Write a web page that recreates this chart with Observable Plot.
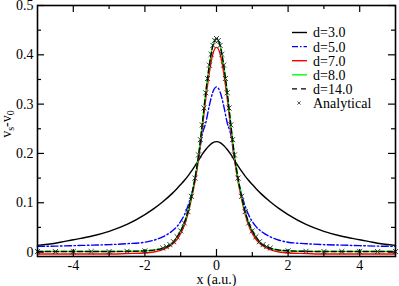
<!DOCTYPE html>
<html>
<head>
<meta charset="utf-8">
<script src="https://cdn.jsdelivr.net/npm/d3@7"></script>
<script src="https://cdn.jsdelivr.net/npm/@observablehq/plot@0.6"></script>
<style>
  html, body { margin: 0; padding: 0; background: #fff; }
  #chart { position: relative; width: 399px; height: 286px; }
  #chart svg, #chart svg text { font-family: 'Liberation Serif', 'Times New Roman', serif !important; }
</style>
</head>
<body>
<div id="chart"></div>
<script>
// ---- data ----
const xs = [-5,-4.5,-4,-3.5,-3,-2.5,-2,-1.75,-1.5,-1.25,-1.1,-1,-0.9,-0.8,-0.7,-0.6,-0.5,-0.4,-0.3,-0.2,-0.1,0,
            0.1,0.2,0.3,0.4,0.5,0.6,0.7,0.8,0.9,1,1.1,1.25,1.5,1.75,2,2.5,3,3.5,4,4.5,5];

const d3_0 = [0.0135,0.018,0.025,0.032,0.042,0.056,0.076,0.088,0.102,0.118,0.129,0.137,0.145,0.154,0.164,0.175,0.186,0.198,0.208,0.216,0.222,0.224,
              0.222,0.216,0.208,0.198,0.186,0.175,0.164,0.154,0.145,0.137,0.129,0.118,0.102,0.088,0.076,0.056,0.042,0.032,0.025,0.018,0.0135];

const d5_0 = [0.0115,0.012,0.013,0.014,0.015,0.017,0.020,0.024,0.031,0.042,0.052,0.062,0.075,0.093,0.117,0.148,0.190,0.238,0.262,0.297,0.325,0.335,
              0.325,0.297,0.262,0.238,0.190,0.148,0.117,0.093,0.075,0.062,0.052,0.042,0.031,0.024,0.020,0.017,0.015,0.014,0.013,0.012,0.0115];

const d7_0 = [-0.004,-0.004,-0.004,-0.004,-0.004,-0.003,-0.002,0.000,0.005,0.015,0.026,0.038,0.054,0.077,0.108,0.144,0.190,0.249,0.311,0.364,0.402,0.415,
              0.402,0.364,0.311,0.249,0.190,0.144,0.108,0.077,0.054,0.038,0.026,0.015,0.005,0.000,-0.002,-0.003,-0.004,-0.004,-0.004,-0.004,-0.004];

const d8_0 = [0.001,0.001,0.001,0.001,0.001,0.0015,0.0025,0.004,0.008,0.017,0.031,0.043,0.059,0.082,0.113,0.150,0.197,0.258,0.323,0.379,0.419,0.433,
              0.419,0.379,0.323,0.258,0.197,0.150,0.113,0.082,0.059,0.043,0.031,0.017,0.008,0.004,0.0025,0.0015,0.001,0.001,0.001,0.001,0.001];

const d14_0 = [0.001,0.001,0.001,0.001,0.001,0.0015,0.0025,0.004,0.008,0.017,0.031,0.043,0.059,0.082,0.113,0.150,0.197,0.258,0.323,0.379,0.419,0.433,
               0.419,0.379,0.323,0.258,0.197,0.150,0.113,0.082,0.059,0.043,0.031,0.017,0.008,0.004,0.0025,0.0015,0.001,0.001,0.001,0.001,0.001];

const anaX = [-5,-4.5,-4,-3.5,-3,-2.5,-2,-1.5,-1.4,-1.3,-1.2,-1.1,-1,-0.9,-0.8,-0.7,-0.6,-0.5,-0.45,-0.4,-0.35,-0.3,-0.25,-0.2,-0.15,-0.1,-0.05,0,
              0.05,0.1,0.15,0.2,0.25,0.3,0.35,0.4,0.45,0.5,0.6,0.7,0.8,0.9,1,1.1,1.2,1.3,1.4,1.5,2,2.5,3,3.5,4,4.5,5];
const anaY = [0.001,0.001,0.001,0.001,0.001,0.0015,0.0025,0.008,0.011,0.015,0.021,0.031,0.043,0.059,0.082,0.113,0.150,0.197,0.228,0.258,0.292,0.323,0.352,0.379,0.401,0.419,0.429,0.433,
              0.429,0.419,0.401,0.379,0.352,0.323,0.292,0.258,0.228,0.197,0.150,0.113,0.082,0.059,0.043,0.031,0.021,0.015,0.011,0.008,0.0025,0.0015,0.001,0.001,0.001,0.001,0.001];

const xMajor = [-4,-2,0,2,4];
const xMinor = [-3,-1,1,3];
const yMajor = [0,0.1,0.2,0.3,0.4,0.5];
const yMinor = [0.05,0.15,0.25,0.35,0.45];
const yTickLabels = ["0","0.1","0.2","0.3","0.4","0.5"];
const xTickLabels = ["-4","-2","0","2","4"];

const legendLabels = ["d=3.0","d=5.0","d=7.0","d=8.0","d=14.0","Analytical"];
const seriesList = [d3_0, d5_0, d7_0, d8_0, d14_0];
const seriesStyle = [
  {stroke: "#000000", dash: null},
  {stroke: "#0000ff", dash: "7,2.5,1.5,2.5"},
  {stroke: "#ff0000", dash: null},
  {stroke: "#00ff00", dash: null},
  {stroke: "#000000", dash: "5,3"}
];

// ---- build ----
const W = 399, H = 286;
const mL = 37, mR = 4, mT = 5, mB = 30;
const innerW = W - mL - mR, innerH = H - mT - mB;
const font = "'Liberation Serif', 'Times New Roman', serif";

const lineData = seriesList.map((s, k) => xs.map((x, i) => ({x, y: s[i], k})));
const anaData = anaX.map((x, i) => ({x, y: anaY[i]}));

const lineMarks = lineData.map((data, k) =>
  Plot.line(data, {x: "x", y: "y", stroke: seriesStyle[k].stroke, strokeWidth: 1.4,
                   strokeDasharray: seriesStyle[k].dash || undefined, curve: "monotone-x"}));

const chart = Plot.plot({
  width: W, height: H,
  marginLeft: mL, marginRight: mR, marginTop: mT, marginBottom: mB,
  style: `font-family: ${font}; font-size: 14px; background: #fff; color: #000; overflow: visible;`,
  x: {domain: [-5, 5]},
  y: {domain: [-0.009, 0.5]},
  marks: [
    ...lineMarks,
    Plot.dot(anaData, {x: "x", y: "y", symbol: "times", r: 2.4, stroke: "#222", strokeWidth: 0.9}),
    // inward ticks on all four sides
    Plot.tickX(xMajor, {x: d => d, insetTop: innerH - 7, stroke: "#000", strokeWidth: 1.2}),
    Plot.tickX(xMajor, {x: d => d, insetBottom: innerH - 7, stroke: "#000", strokeWidth: 1.2}),
    Plot.tickX(xMinor, {x: d => d, insetTop: innerH - 4, stroke: "#000", strokeWidth: 1.2}),
    Plot.tickX(xMinor, {x: d => d, insetBottom: innerH - 4, stroke: "#000", strokeWidth: 1.2}),
    Plot.tickY(yMajor, {y: d => d, insetRight: innerW - 7, stroke: "#000", strokeWidth: 1.2}),
    Plot.tickY(yMajor, {y: d => d, insetLeft: innerW - 7, stroke: "#000", strokeWidth: 1.2}),
    Plot.tickY(yMinor, {y: d => d, insetRight: innerW - 4, stroke: "#000", strokeWidth: 1.2}),
    Plot.tickY(yMinor, {y: d => d, insetLeft: innerW - 4, stroke: "#000", strokeWidth: 1.2}),
    Plot.axisX(xMajor, {tickSize: 0, tickPadding: 4, label: null, fontSize: 14,
                        tickFormat: d => xTickLabels[xMajor.indexOf(d)]}),
    Plot.axisY(yMajor, {tickSize: 0, tickPadding: 4, label: null, fontSize: 14,
                        tickFormat: d => yTickLabels[yMajor.indexOf(d)]}),
    Plot.text(["x (a.u.)"], {frameAnchor: "bottom", dy: 23, text: d => d, fontSize: 14, lineAnchor: "middle"}),
    Plot.frame({stroke: "#000", strokeWidth: 1.6})
  ]
});
document.getElementById("chart").appendChild(chart);

const svg = d3.select(chart);
// force the serif face and size on every text drawn by Plot
svg.selectAll("text").style("font-family", font).style("font-size", "14px");
svg.selectAll("g[aria-label] text").attr("font-size", null);

// ---- y label with subscripts ----
const yl = svg.append("text")
  .attr("transform", "translate(11,124) rotate(-90)")
  .attr("text-anchor", "middle")
  .style("font-family", font).style("font-size", "14px").attr("fill", "#000");
yl.append("tspan").text("v");
yl.append("tspan").attr("dy", 3).style("font-size", "10px").text("s");
yl.append("tspan").attr("dy", -3).text("-v");
yl.append("tspan").attr("dy", 3).style("font-size", "10px").text("0");

// ---- legend ----
const lg = svg.append("g").style("font-family", font).style("font-size", "14px").attr("text-anchor", "start");
const rowY0 = 32.5, rowStep = 14.1;
legendLabels.forEach((lab, i) => {
  const y = rowY0 + i * rowStep;
  if (i < seriesStyle.length) {
    const st = seriesStyle[i];
    const ln = lg.append("line").attr("x1", 292).attr("x2", 307).attr("y1", y).attr("y2", y)
      .attr("stroke", st.stroke).attr("stroke-width", 1.4);
    if (st.dash) ln.attr("stroke-dasharray", i === 4 ? "5,4" : "6,2,1.5,2");
  } else {
    const s = 1.6;
    lg.append("path").attr("d", `M${299-s},${y-s}L${299+s},${y+s}M${299-s},${y+s}L${299+s},${y-s}`)
      .attr("stroke", "#444").attr("stroke-width", 0.9);
  }
  lg.append("text").attr("x", 313).attr("y", y).attr("dy", "0.35em").attr("text-anchor", "start")
    .attr("fill", "#000").text(lab);
});
</script>
</body>
</html>
